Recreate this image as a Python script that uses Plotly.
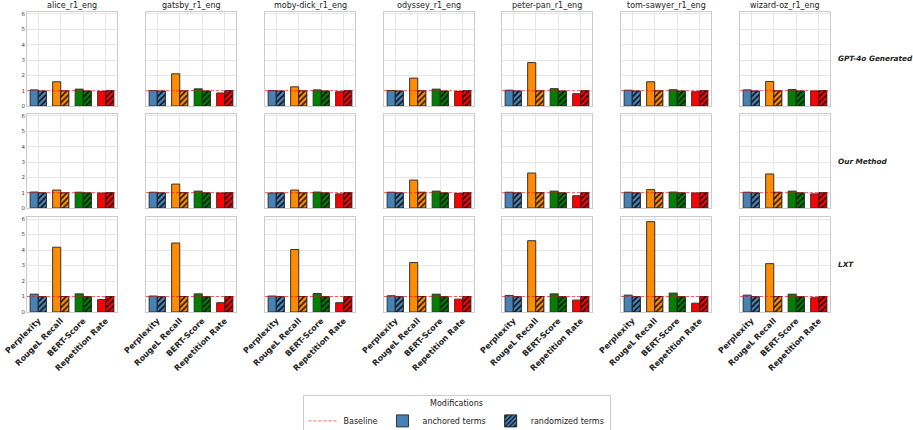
import plotly.graph_objects as go

books = ["alice_r1_eng", "gatsby_r1_eng", "moby-dick_r1_eng", "odyssey_r1_eng",
         "peter-pan_r1_eng", "tom-sawyer_r1_eng", "wizard-oz_r1_eng"]
methods = ["GPT-4o Generated", "Our Method", "LXT"]
metrics = ["Perplexity", "RougeL Recall", "BERT-Score", "Repetition Rate"]
metric_colors = ["#4682B4", "#FF8C00", "#008000", "#FF0000"]

# anchored terms: [method][book] -> [perplexity, rougeL, bert, repetition]
anchored_gpt = [
    [1.05, 1.58, 1.10, 0.95],
    [1.00, 2.10, 1.12, 0.85],
    [1.00, 1.25, 1.05, 0.93],
    [1.01, 1.82, 1.10, 0.95],
    [1.03, 2.83, 1.13, 0.80],
    [1.03, 1.58, 1.06, 0.93],
    [1.05, 1.60, 1.07, 0.98],
]
anchored_ours = [
    [1.04, 1.17, 1.03, 0.97],
    [1.03, 1.56, 1.10, 0.98],
    [0.98, 1.17, 1.04, 0.92],
    [1.03, 1.82, 1.10, 0.94],
    [1.03, 2.28, 1.10, 0.80],
    [1.03, 1.20, 1.04, 0.98],
    [1.03, 2.22, 1.10, 0.92],
]
anchored_lxt = [
    [1.15, 4.18, 1.17, 0.80],
    [1.03, 4.45, 1.17, 0.60],
    [1.03, 4.03, 1.19, 0.60],
    [1.05, 3.19, 1.15, 0.83],
    [1.07, 4.60, 1.17, 0.77],
    [1.09, 5.83, 1.22, 0.57],
    [1.09, 3.12, 1.15, 0.92],
]
# randomized terms
randomized_gpt = [[0.98, 0.99, 0.98, 1.00]] * 7
randomized_ours = [
    [0.99, 0.99, 0.99, 1.00],
    [0.99, 1.00, 0.99, 1.00],
    [0.99, 0.99, 0.99, 1.00],
    [0.99, 1.03, 0.99, 1.00],
    [0.99, 1.00, 0.99, 1.00],
    [0.99, 1.00, 0.99, 1.00],
    [0.99, 1.03, 0.99, 1.00],
]
randomized_lxt = [[0.99, 1.00, 0.99, 1.00]] * 7

anchored = [anchored_gpt, anchored_ours, anchored_lxt]
randomized = [randomized_gpt, randomized_ours, randomized_lxt]
baseline = 1.0
y_ticks = [0, 1, 2, 3, 4, 5, 6]

W, H = 913, 430
col_x0 = [27, 146, 265, 384, 502, 621, 740]
col_w = 90
row_y = [(12, 106), (114, 208), (217, 312)]

HATCH = dict(shape="/", fillmode="overlay", fgcolor="#000000", fgopacity=1,
             size=4, solidity=0.35)
BASE_LINE = dict(color="rgba(255,0,0,0.6)", width=1, dash="3px,2px")

fig = go.Figure()
layout = {}
annotations = []
shapes = []

for r in range(3):
    for c in range(7):
        idx = r * 7 + c + 1
        xa = "x" if idx == 1 else f"x{idx}"
        ya = "y" if idx == 1 else f"y{idx}"
        fig.add_trace(go.Bar(
            x=metrics, y=anchored[r][c], xaxis=xa, yaxis=ya,
            offsetgroup="a", showlegend=False,
            marker=dict(color=metric_colors, line=dict(color="#333333", width=1)),
        ))
        for m, (metric, col) in enumerate(zip(metrics, metric_colors)):
            fig.add_trace(go.Bar(
                x=[metric], y=[randomized[r][c][m]], xaxis=xa, yaxis=ya,
                offsetgroup="r", showlegend=False,
                marker=dict(color=col, line=dict(color="#222222", width=1),
                            pattern=HATCH),
            ))
        xk = "xaxis" if idx == 1 else f"xaxis{idx}"
        yk = "yaxis" if idx == 1 else f"yaxis{idx}"
        x0 = col_x0[c] / W
        x1 = (col_x0[c] + col_w) / W
        y0 = 1 - row_y[r][1] / H
        y1 = 1 - row_y[r][0] / H
        layout[xk] = dict(
            domain=[x0, x1], anchor=ya, type="category", automargin=False,
            categoryorder="array", categoryarray=metrics, range=[-0.5, 3.5],
            showgrid=True, gridcolor="#e6e6e6", gridwidth=0.6,
            showline=True, linecolor="#cccccc", linewidth=1, mirror=True,
            showticklabels=(r == 2), tickangle=-45, ticks="",
            tickfont=dict(family="DejaVu Sans", size=8, color="#222222", weight="bold"),
        )
        layout[yk] = dict(
            domain=[y0, y1], anchor=xa, range=[0, 6.13], automargin=False,
            tickvals=y_ticks, showgrid=True, gridcolor="#e6e6e6", gridwidth=0.6,
            showline=True, linecolor="#cccccc", linewidth=1, mirror=True,
            showticklabels=(c == 0), ticks="", zeroline=False,
            tickfont=dict(family="DejaVu Sans", size=5.5, color="#444444"),
        )
        shapes.append(dict(
            type="line", xref=f"{xa} domain", yref=ya, x0=0, x1=1,
            y0=baseline, y1=baseline, layer="above", line=BASE_LINE,
        ))
        if r == 0:
            annotations.append(dict(
                text=books[c], x=(x0 + x1) / 2, y=1 - 5 / H, xref="paper", yref="paper",
                xanchor="center", yanchor="middle",
                showarrow=False, font=dict(family="DejaVu Sans", size=8, color="#222222"),
            ))
    annotations.append(dict(
        text=methods[r], x=836 / W, xanchor="left", yanchor="middle",
        y=1 - (row_y[r][0] + row_y[r][1]) / 2 / H, xref="paper", yref="paper",
        showarrow=False,
        font=dict(family="DejaVu Sans", size=7.3, color="#222222", weight="bold", style="italic"),
    ))

# legend entries
fig.add_trace(go.Scatter(x=[None], y=[None], mode="lines", name="Baseline", line=BASE_LINE))
fig.add_trace(go.Bar(x=[None], y=[None], name="anchored terms", offsetgroup="a",
                     marker=dict(color=metric_colors[0], line=dict(color="#333333", width=1))))
fig.add_trace(go.Bar(x=[None], y=[None], name="randomized terms", offsetgroup="r",
                     marker=dict(color=metric_colors[0], line=dict(color="#222222", width=1),
                                 pattern=HATCH)))

fig.update_layout(
    width=W, height=H, margin=dict(l=0, r=0, t=0, b=0, autoexpand=False),
    paper_bgcolor="white", plot_bgcolor="white",
    barmode="group", bargap=0.28, bargroupgap=0.0,
    font=dict(family="DejaVu Sans"),
    annotations=annotations, shapes=shapes,
    legend=dict(
        orientation="h", x=0.5, xanchor="center", y=1 - 395 / H, yanchor="top",
        title=dict(text="Modifications", side="top center",
                   font=dict(family="DejaVu Sans", size=8, color="#222222")),
        font=dict(family="DejaVu Sans", size=8, color="#222222"),
        bordercolor="#cccccc", borderwidth=1, bgcolor="white",
        itemwidth=30, tracegroupgap=0,
    ),
    **layout,
)

fig.write_html("out.html", config={"displayModeBar": False},
               post_script="document.body.style.margin='0px';document.body.style.overflow='hidden';")
